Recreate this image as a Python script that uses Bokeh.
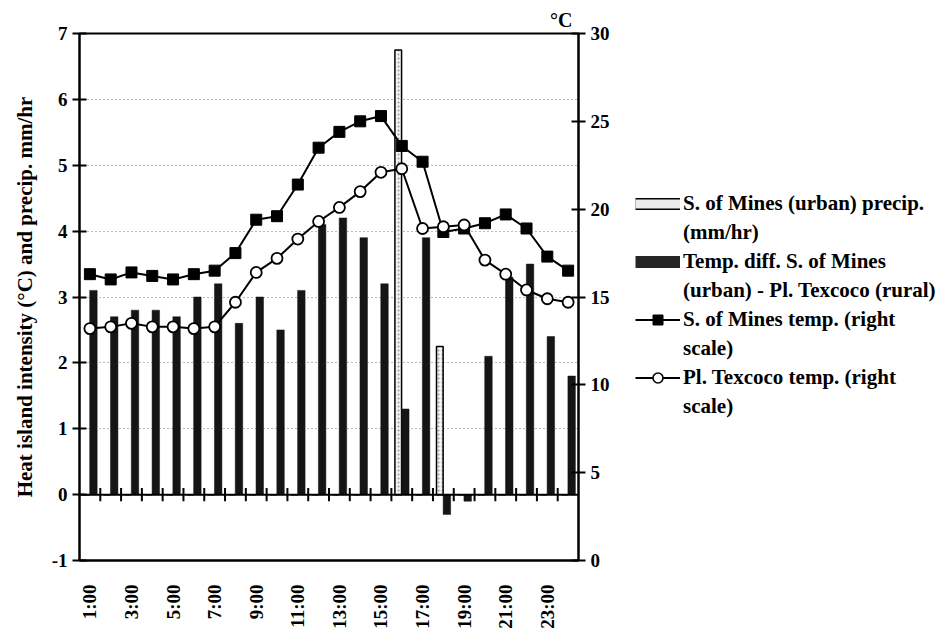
from bokeh.plotting import figure
from bokeh.layouts import row
from bokeh.models import (Range1d, LinearAxis, FixedTicker, Legend, LegendItem,
                          Title, Span, ColumnDataSource)
from bokeh.embed import file_html
from bokeh.resources import INLINE

# ---------------- data ----------------
hours = list(range(1, 25))
hour_labels = [f"{h}:00" for h in hours]
temp_diff = [3.1, 2.7, 2.8, 2.8, 2.7, 3.0, 3.2, 2.6, 3.0, 2.5, 3.1, 4.1,
             4.2, 3.9, 3.2, 1.3, 3.9, -0.3, -0.1, 2.1, 3.3, 3.5, 2.4, 1.8]
precip = [0, 0, 0, 0, 0, 0, 0, 0, 0, 0, 0, 0,
          0, 0, 0, 6.75, 0, 2.25, 0, 0, 0, 0, 0, 0]
mines_temp = [16.3, 16.0, 16.4, 16.2, 16.0, 16.3, 16.5, 17.5, 19.4, 19.6, 21.4, 23.5,
              24.4, 25.0, 25.3, 23.6, 22.7, 18.7, 18.9, 19.2, 19.7, 18.9, 17.3, 16.5]
texcoco_temp = [13.2, 13.3, 13.5, 13.3, 13.3, 13.2, 13.3, 14.7, 16.4, 17.2, 18.3, 19.3,
                20.1, 21.0, 22.1, 22.3, 18.9, 19.0, 19.1, 17.1, 16.3, 15.4, 14.9, 14.7]
left_ticks = [-1, 0, 1, 2, 3, 4, 5, 6, 7]
right_ticks = [0, 5, 10, 15, 20, 25, 30]
label_hours = hours[::2]
legend_lines = [
    ("S. of Mines (urban) precip.", "(mm/hr)"),
    ("Temp. diff. S. of Mines", "(urban) - Pl. Texcoco (rural)"),
    ("S. of Mines temp. (right", "scale)"),
    ("Pl. Texcoco temp. (right", "scale)"),
]

FONT = "Liberation Serif"
FS = "19px"
INK = "black"

src = ColumnDataSource(dict(
    x=hours,
    xp=[h - 0.17 for h in hours],
    xd=[h + 0.17 for h in hours],
    precip=precip, diff=temp_diff, mines=mines_temp, tex=texcoco_temp))

p = figure(width=620, height=631, output_backend="svg", toolbar_location=None,
           x_range=Range1d(0.5, 24.5), y_range=Range1d(-1, 7),
           min_border_left=79, min_border_right=42, min_border_top=33,
           min_border_bottom=65)
p.extra_y_ranges = {"temp": Range1d(0, 30)}

p.background_fill_color = "white"
p.border_fill_color = "white"
p.outline_line_color = "black"
p.outline_line_width = 2

# °C title above the right axis
t = Title(text="°C", align="right", offset=6, text_font=FONT, text_color=INK,
          text_font_style="bold", text_font_size="20px", standoff=6)
p.add_layout(t, "above")

# grid
p.xgrid.visible = False
p.ygrid.grid_line_color = "#777777"
p.ygrid.grid_line_dash = "1 3"
p.ygrid.grid_line_width = 1

# left axis
ya = p.yaxis[0]
ya.ticker = FixedTicker(ticks=left_ticks)
ya.major_label_overrides = {-1: "-1"}
ya.axis_label = "Heat island intensity (°C) and precip. mm/hr"
ya.axis_label_text_font = FONT
ya.axis_label_text_font_style = "bold"
ya.axis_label_text_font_size = "21px"
ya.axis_label_text_color = INK
ya.axis_label_standoff = 12
ya.major_label_text_font = FONT
ya.major_label_text_font_style = "bold"
ya.major_label_text_font_size = FS
ya.major_label_text_color = INK
ya.major_label_standoff = 5
ya.major_tick_in = 7
ya.major_tick_out = 7
ya.minor_tick_line_color = None
ya.axis_line_width = 2
ya.major_tick_line_width = 2

# right axis
ra = LinearAxis(y_range_name="temp", ticker=FixedTicker(ticks=right_ticks))
ra.major_label_text_font = FONT
ra.major_label_text_font_style = "bold"
ra.major_label_text_font_size = FS
ra.major_label_text_color = INK
ra.major_label_standoff = 5
ra.major_tick_in = 7
ra.major_tick_out = 7
ra.minor_tick_line_color = None
ra.axis_line_width = 2
ra.major_tick_line_width = 2
p.add_layout(ra, "right")

# bottom axis (labels only)
xa = p.xaxis[0]
xa.ticker = FixedTicker(ticks=label_hours)
xa.major_label_overrides = {h: hour_labels[h - 1] for h in label_hours}
xa.major_label_orientation = 3.14159265 / 2
xa.major_label_text_font = FONT
xa.major_label_text_font_style = "bold"
xa.major_label_text_font_size = FS
xa.major_label_text_color = INK
xa.major_label_standoff = 18
xa.major_tick_line_color = None
xa.minor_tick_line_color = None
xa.axis_line_width = 2

# bars
p.vbar(x="xp", top="precip", bottom=0, width=0.32, source=src,
       fill_color="#f4f4f4", line_color="black", line_width=1.5,
       hatch_pattern=".", hatch_color="#9a9a9a", hatch_scale=4)
p.vbar(x="xd", top="diff", bottom=0, width=0.36, source=src,
       fill_color="#151515", line_color="#151515", line_width=0.5)

# zero line with crossing ticks at category boundaries
p.add_layout(Span(location=0, dimension="width", line_color="black", line_width=2))
bounds = [h + 0.5 for h in hours[:-1]]
p.segment(x0=bounds, x1=bounds, y0=[-0.1] * len(bounds), y1=[0.1] * len(bounds),
          line_color="black", line_width=2)

# lines
p.line("x", "mines", source=src, y_range_name="temp", line_color="black", line_width=2)
p.scatter("x", "mines", source=src, y_range_name="temp", marker="square", size=11,
          fill_color="black", line_color="black")
p.line("x", "tex", source=src, y_range_name="temp", line_color="black", line_width=2)
p.scatter("x", "tex", source=src, y_range_name="temp", marker="circle", size=11,
          fill_color="white", line_color="black", line_width=1.8)

# ---------------- legend panel ----------------
q = figure(width=321, height=631, output_backend="svg", toolbar_location=None,
           x_range=Range1d(0, 1), y_range=Range1d(0, 1),
           min_border=0, min_border_left=0, min_border_right=0,
           min_border_top=0, min_border_bottom=0)
q.axis.visible = False
q.grid.visible = False
q.outline_line_color = None
q.background_fill_color = "white"
q.border_fill_color = "white"

# legend proxies: one point each, placed outside the visible range
px, py = [-5], [-5]
lp_out = q.line(x=px, y=py, line_color="black", line_width=12)
lp_in = q.line(x=px, y=py, line_color="#ebebeb", line_width=9)
ld = q.line(x=px, y=py, line_color="#262626", line_width=12)
lm = q.line(x=px, y=py, line_color="black", line_width=2)
sm = q.scatter(x=px, y=py, marker="square", fill_color="black", line_color="black")
lt = q.line(x=px, y=py, line_color="black", line_width=2)
st = q.scatter(x=px, y=py, marker="circle", fill_color="white", line_color="black",
               line_width=1.6)
blank = q.line(x=px, y=py, line_alpha=0)

glyph_sets = [[lp_out, lp_in], [ld], [lm, sm], [lt, st]]
items = []
for (first, second), rends in zip(legend_lines, glyph_sets):
    items.append(LegendItem(label=first, renderers=rends))
    items.append(LegendItem(label=second, renderers=[blank]))

legend = Legend(items=items, location=(15, 141))
legend.label_text_font = FONT
legend.label_text_font_style = "bold"
legend.label_text_font_size = "21px"
legend.label_text_color = INK
legend.background_fill_alpha = 0
legend.border_line_color = None
legend.padding = 0
legend.margin = 0
legend.spacing = 4
legend.glyph_width = 45
legend.glyph_height = 25
legend.label_height = 25
legend.label_standoff = 3
q.add_layout(legend, "center")

layout = row(p, q, spacing=0)
open("out.html", "w").write(file_html(layout, INLINE))
